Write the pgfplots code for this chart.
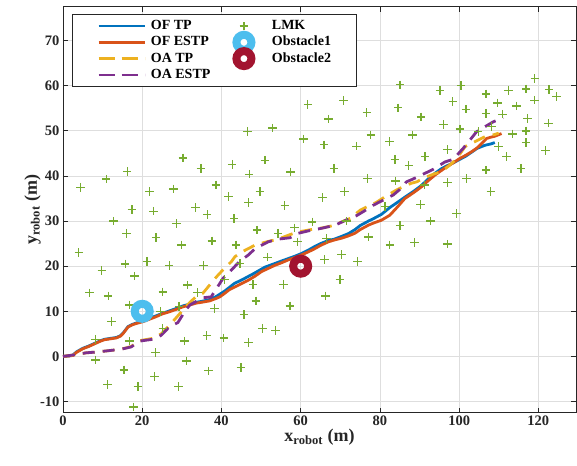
\documentclass[border=0pt]{standalone}
\usepackage{fontspec}
\setmainfont{Liberation Serif}
\usepackage{pgfplots}
\pgfplotsset{compat=1.18}
\definecolor{cTP}{RGB}{0,114,189}
\definecolor{cESTP}{RGB}{217,83,25}
\definecolor{cOATP}{RGB}{237,177,32}
\definecolor{cOAESTP}{RGB}{126,47,142}
\definecolor{cLMK}{RGB}{119,172,48}
\definecolor{cOb1}{RGB}{77,190,238}
\definecolor{cOb2}{RGB}{162,20,47}
\definecolor{axgray}{RGB}{38,38,38}
\pgfplotstableread{
x y
4.4 37.5
10.9 39.3
16.2 41.0
30.3 44.0
34.8 41.7
42.7 42.6
38.6 38.0
21.9 36.5
27.9 37.1
41.8 35.4
17.4 32.6
22.9 32.2
33.4 33.0
36.4 31.5
12.8 30.0
16.0 27.3
23.5 26.3
28.6 29.5
29.9 24.7
37.6 25.6
4.0 23.0
9.8 19.1
15.7 20.5
21.2 21.1
26.8 20.1
35.5 20.1
18.1 17.8
31.5 15.8
33.9 14.2
40.8 17.1
6.7 14.1
11.4 13.4
25.2 14.3
16.8 11.4
24.6 9.9
38.3 10.6
29.3 11.0
12.3 7.8
25.2 6.2
8.2 3.8
16.8 3.4
30.7 3.4
36.3 4.6
40.6 4.1
8.2 -0.8
23.3 0.9
31.1 -1.0
15.4 -3.0
23.1 -4.5
36.8 -3.2
11.2 -6.2
18.9 -6.7
29.2 -6.7
17.8 -11.2
85.1 60.2
61.8 55.9
70.8 56.7
84.6 55.1
67.0 52.6
76.7 54.1
46.5 49.8
52.9 50.6
60.7 48.2
65.9 46.9
74.1 46.6
77.7 49.1
82.4 47.6
83.8 43.7
51.0 43.5
47.0 40.4
57.5 40.9
68.4 41.7
76.8 39.5
84.0 38.9
49.7 36.5
46.8 34.1
56.0 33.4
65.5 35.2
71.0 36.5
81.3 33.2
43.2 30.6
49.0 28.0
54.3 27.3
58.5 28.5
59.2 25.4
62.9 29.8
71.6 30.0
66.5 26.2
77.1 26.5
85.1 29.0
82.5 24.7
43.7 24.7
44.7 20.6
51.6 22.0
66.0 21.5
70.3 22.6
74.3 21.0
48.0 16.0
55.6 16.0
69.9 17.1
48.7 12.3
57.3 11.2
66.3 13.4
45.7 9.3
50.3 6.2
53.7 5.8
46.8 3.1
44.9 -2.5
119.1 61.6
100.5 60.0
95.2 58.9
106.8 58.2
112.4 59.0
116.9 59.3
122.7 59.2
124.6 57.6
98.4 56.5
109.7 56.2
119.0 56.8
101.7 54.8
114.5 55.5
106.8 53.9
110.9 53.7
90.4 53.1
117.3 52.8
96.0 51.4
100.2 50.4
108.2 50.9
122.5 51.7
104.8 49.8
116.9 50.0
113.4 49.3
88.2 49.1
116.9 47.4
97.0 45.9
109.9 46.5
121.8 45.7
87.3 42.3
91.4 44.3
112.0 44.3
106.8 41.3
115.6 41.7
101.9 39.5
97.1 38.5
91.2 38.0
108.0 36.5
90.3 33.7
99.4 31.7
92.8 30.0
88.7 25.3
97.0 24.9
}\lmk
\begin{document}
\begin{tikzpicture}
\begin{axis}[
 name=ax,
 width=513pt, height=406pt, scale only axis,
 xmin=0, xmax=129.5, ymin=-12.5, ymax=77.5,
 xtick={0,20,...,120}, ytick={-10,0,...,70},
 grid=major, major grid style={draw=black!13, line width=0.8pt},
 axis line style={draw=axgray, line width=0.8pt},
 tick style={draw=axgray, line width=0.8pt},
 tick align=inside, major tick length=5pt,
 /pgf/number format/assume math mode=true,
 ticklabel style={font=\bfseries\fontsize{14.5}{16}\selectfont, text=axgray},
 xlabel={x\textsubscript{robot} (m)},
 ylabel={y\textsubscript{robot} (m)},
 xlabel style={font=\bfseries\fontsize{18}{20}\selectfont, text=axgray, at={(axis description cs:0.5,-0.071)}, anchor=base},
 ylabel style={font=\bfseries\fontsize{18}{20}\selectfont, text=axgray, at={(axis description cs:-0.051,0.5)}, anchor=base},
 legend columns=2,
 legend cell align=left,
 legend image code/.code={\draw[#1] (0pt,0pt) -- (46pt,0pt);},
 legend style={at={(axis description cs:0.017,0.982)}, anchor=north west,
   draw=axgray, line width=0.8pt, fill=white,
   font=\bfseries\fontsize{14}{16}\selectfont,
   inner xsep=25pt, inner ysep=5pt,
   row sep=3.3pt,
   nodes={inner sep=0pt, text height=10pt, text depth=3pt},
   /tikz/every odd column/.append style={column sep=5pt},
   /tikz/every even column/.append style={column sep=10.5pt}},
]
\addlegendimage{cTP, line width=2.8pt}
\addlegendentry{OF TP}
\addlegendimage{legend image code/.code={\path[draw=none] (0pt,0pt) -- (46pt,0pt); \draw[cLMK, line width=1.3pt] (18.7pt,0pt) -- (27.3pt,0pt) (23pt,-4.3pt) -- (23pt,4.3pt);}}
\addlegendentry{LMK}
\addlegendimage{cESTP, line width=2.8pt}
\addlegendentry{OF ESTP}
\addlegendimage{legend image code/.code={\path[draw=none] (0pt,0pt) -- (46pt,0pt); \draw[overlay, cOb1, line width=8pt] (23pt,0pt) circle[radius=7.5pt];}}
\addlegendentry{Obstacle1}
\addlegendimage{cOATP, line width=2.8pt, dash pattern=on 16pt off 7pt}
\addlegendentry{OA TP}
\addlegendimage{legend image code/.code={\path[draw=none] (0pt,0pt) -- (46pt,0pt); \draw[overlay, cOb2, line width=8pt] (23pt,0pt) circle[radius=7.5pt];}}
\addlegendentry{Obstacle2}
\addlegendimage{cOAESTP, line width=2.8pt, dash pattern=on 16pt off 7pt}
\addlegendentry{OA ESTP}

\addplot[forget plot, cTP, line width=2.8pt] coordinates {
(0,0)(1.5,0.1)(2.5,0.3)(3.4,1.0)(5,1.8)(6.5,2.3)(8,2.9)(9.5,3.5)(10.5,3.8)(12,4.0)(13.5,4.2)(14.5,4.6)(15.3,5.3)(16.4,6.6)(17.5,7.1)(18.5,7.4)(20.2,7.9)(22,8.5)(23.5,9.0)(25,9.5)(26.9,10.1)(28.5,10.6)(30.3,11.2)(32,11.6)(33.6,12.0)(35,12.2)(37,12.6)(38.5,13.2)(39.6,13.8)(41,14.6)(42,15.3)(43.3,16.2)(45,16.9)(46.5,17.6)(48,18.3)(49.6,19.1)(51,19.8)(53.5,20.6)(55,21.1)(56.9,21.7)(58.5,22.2)(60.2,22.8)(62,23.6)(63.6,24.4)(65,25.0)(67,25.7)(68.5,26.0)(70.3,26.6)(72,27.2)(73.7,28.1)(75,29.0)(77.1,30.0)(78.5,30.6)(80.4,31.5)(82.5,33.0)(84.5,34.2)(86.3,35.3)(88.5,36.6)(90.5,37.9)(92,39.2)(93.9,40.6)(95.5,41.6)(96.8,42.2)(98.5,42.9)(100.2,43.7)(101.7,44.4)(103.2,45.3)(104.5,46.1)(106.5,46.8)(108,47.1)(109,47.4)
};
\addplot[forget plot, cESTP, line width=2.8pt] coordinates {
(0,0)(1.5,0.1)(2.5,0.2)(3.4,0.9)(5,1.7)(6.5,2.2)(8,2.8)(9.5,3.4)(10.5,3.7)(12,3.9)(13.5,4.1)(14.5,4.5)(15.1,5.0)(16.4,6.5)(17.5,7.0)(18.5,7.3)(20.2,7.7)(22,8.3)(23.5,8.8)(25,9.4)(26.9,9.9)(28.5,10.4)(30.3,11.0)(32,11.4)(33.6,11.8)(35,12.0)(37,12.3)(38.5,12.8)(39.6,13.2)(41,14.1)(42,14.8)(43.4,15.4)(45,16.1)(46.8,16.9)(48.5,17.8)(50.1,18.8)(51.8,19.5)(53.5,20.2)(55,20.7)(56.9,21.4)(58.5,21.9)(60.2,22.5)(62,23.2)(63.6,23.9)(65,24.6)(67,25.4)(68.5,25.8)(70.3,26.2)(72,26.7)(73.7,27.3)(75,28.1)(77.1,29.1)(78.5,29.6)(80.4,30.2)(82.5,31.3)(84.5,33.2)(86.3,35.0)(88.5,36.3)(90.5,37.6)(92,38.8)(93.9,40.2)(95.5,41.2)(96.8,42.0)(98.5,42.9)(100.2,43.9)(101.7,44.6)(103.2,45.4)(104.5,46.2)(105.7,47.2)(106.9,48.3)(108,48.6)(109,48.8)(110.7,49.4)
};
\addplot[forget plot, cOATP, line width=2.8pt, dash pattern=on 12pt off 8pt] coordinates {
(0,0)(2.5,0.3)(5.9,0.8)(8.8,1.0)(11.8,1.3)(14.7,1.6)(17.2,2.2)(19.4,3.5)(22.7,4.0)(24.8,5.0)(26.9,6.9)(27.8,7.8)(29.5,9.5)(31.5,11.5)(33.5,13.2)(35.3,14.0)(37,15.8)(38.7,17.6)(40.5,19.3)(42.5,21.0)(43.4,22.1)(45,23.1)(46.8,23.9)(48.5,24.7)(51.4,25.4)(54.3,26.0)(57.3,27.0)(59.4,27.6)(63.2,28.2)(65.5,28.5)(68.2,29.0)(70.3,29.8)(72.5,30.6)(75,32.4)(77,33.3)(79,34.1)(81.5,35.5)(84.2,36.9)(86.5,37.9)(88,38.4)(89.3,38.7)(91.5,39.7)(93.5,40.4)(95.6,41.0)(97.5,42.3)(99,43.5)(100.3,45.0)(101.5,46.5)(104,47.6)(106.5,48.7)(109,49.2)(110,49.5)
};
\addplot[forget plot, cOAESTP, line width=2.8pt, dash pattern=on 12pt off 8pt] coordinates {
(0,0)(2.5,0.3)(5.9,0.8)(8.8,1.0)(11.8,1.3)(14.7,1.6)(17.2,2.1)(19.4,3.4)(22.7,3.8)(24.8,4.7)(26.9,6.6)(29,7.5)(30.7,9.9)(32,11.4)(35.3,13.0)(37.4,13.2)(39.6,16.2)(40.4,17.3)(42.9,19.5)(44.5,21.0)(46.8,22.5)(48.5,23.9)(51.8,25.4)(54.3,26.0)(57.3,26.3)(59.4,27.3)(62.8,28.0)(65.3,28.4)(68.7,29.1)(72.4,30.6)(74.1,31.2)(76,32.2)(78.3,33.5)(80.5,34.5)(83.4,35.8)(85,37.0)(86.7,38.7)(88.3,39.3)(91.4,40.6)(93.5,41.5)(96.4,43.1)(98.5,43.7)(101,46.1)(102.3,47.5)(104.4,49.8)(106.1,50.7)(108.6,52.0)(111.1,52.9)
};
\addplot[forget plot, cLMK, only marks, mark=+, mark size=4.3pt, line width=1.3pt] table[x=x,y=y] {\lmk};
\addplot[forget plot, cOb1, only marks, mark=o, mark size=7.5pt, line width=8pt] coordinates {(20,10)};
\addplot[forget plot, cOb2, only marks, mark=o, mark size=7.5pt, line width=8pt] coordinates {(60,20)};
\end{axis}
\pgfresetboundingbox
\path[use as bounding box] ([xshift=-63pt,yshift=-52.3pt]ax.south west) rectangle ([xshift=1pt,yshift=6.8pt]ax.north east);
\end{tikzpicture}
\end{document}
